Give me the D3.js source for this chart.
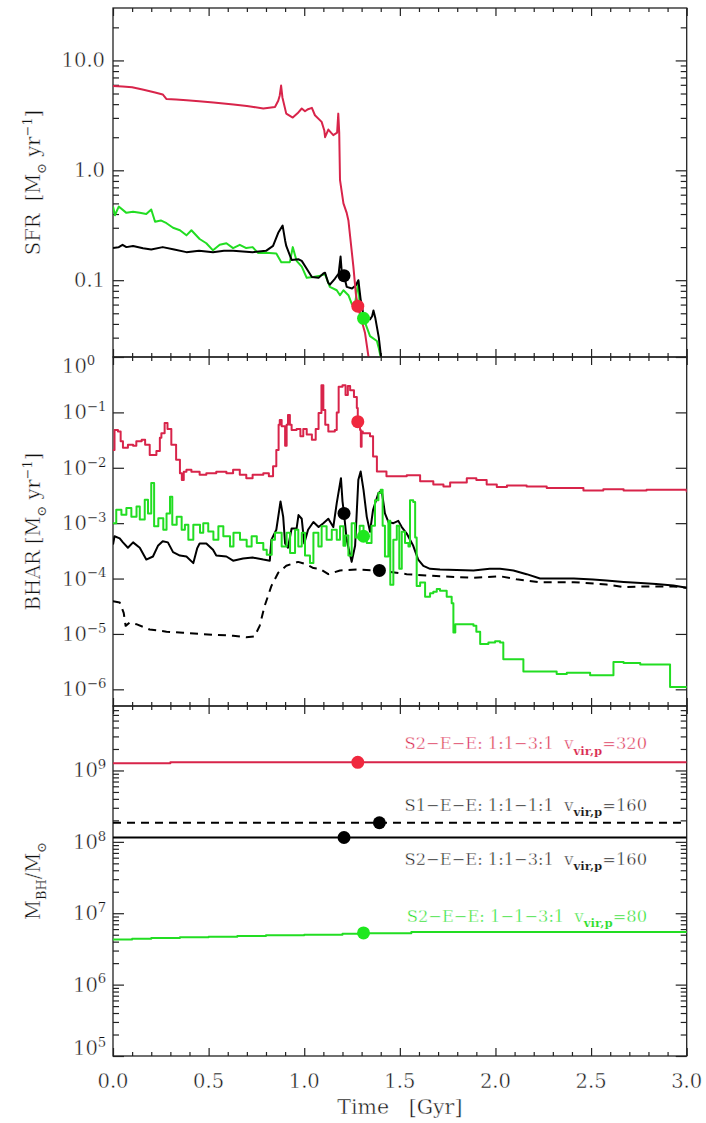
<!DOCTYPE html>
<html>
<head>
<meta charset="utf-8">
<script src="https://cdn.jsdelivr.net/npm/d3@7"></script>
<style>
  html, body { margin: 0; padding: 0; background: #fff; }
  svg { display: block; font-family: "DejaVu Serif", serif; }
  text { white-space: pre; stroke: #fff; stroke-width: 0.45px; }
  tspan.small { stroke-width: 0.2px; }
</style>
</head>
<body>
<svg id="chart" width="706" height="1123"></svg>
<script>
// ---------- data ----------
const timeTicks = [0, 0.5, 1.0, 1.5, 2.0, 2.5, 3.0];
const timeTickLabels = ["0.0", "0.5", "1.0", "1.5", "2.0", "2.5", "3.0"];
const sfrTicks = [10, 1, 0.1];
const sfrTickLabels = ["10.0", "1.0", "0.1"];
const bharExponents = [0, -1, -2, -3, -4, -5, -6];
const mbhExponents = [5, 6, 7, 8, 9];

// merger (coalescence) times of the four runs, Gyr
const mergeTimes = { red: 1.28, black: 1.208, green: 1.31, dashed: 1.393 };

// star formation rate, Msun/yr  [t, value]
const sfrRed = [[0,5.85],[0.05,5.8],[0.1,5.7],[0.16,5.4],[0.22,5.1],[0.26,4.9],[0.28,4.45],[0.33,4.4],[0.385,4.34],[0.45,4.25],[0.525,4.14],[0.63,3.97],[0.7,3.85],[0.735,3.77],[0.786,3.65],[0.847,3.77],[0.864,4.3],[0.872,4.8],[0.879,5.9],[0.886,4.6],[0.906,3.28],[0.94,3.02],[0.965,3.3],[0.987,3.65],[1.004,3.45],[1.02,3.6],[1.04,3.7],[1.056,3.17],[1.091,2.76],[1.105,2.3],[1.109,2.0],[1.126,2.35],[1.14,2.2],[1.152,2.09],[1.172,2.2],[1.178,3.28],[1.183,2.2],[1.187,0.82],[1.205,0.5],[1.222,0.41],[1.231,0.35],[1.257,0.133],[1.27,0.075],[1.28,0.058],[1.318,0.033],[1.34,0.018],[1.36,0.01]];
const sfrBlack = [[0,0.196],[0.03,0.2],[0.05,0.21],[0.07,0.2],[0.105,0.205],[0.157,0.195],[0.2,0.19],[0.26,0.2],[0.32,0.19],[0.384,0.18],[0.45,0.185],[0.523,0.18],[0.58,0.185],[0.628,0.185],[0.73,0.18],[0.8,0.185],[0.837,0.205],[0.864,0.27],[0.887,0.314],[0.9,0.23],[0.906,0.205],[0.934,0.153],[0.969,0.155],[0.987,0.15],[1.013,0.127],[1.04,0.107],[1.075,0.105],[1.1,0.115],[1.109,0.117],[1.125,0.095],[1.134,0.091],[1.16,0.103],[1.18,0.115],[1.19,0.164],[1.196,0.12],[1.208,0.11],[1.222,0.087],[1.25,0.084],[1.27,0.09],[1.283,0.1],[1.295,0.067],[1.31,0.048],[1.344,0.044],[1.355,0.047],[1.362,0.053],[1.372,0.045],[1.39,0.03],[1.41,0.015]];
const sfrGreen = [[0,0.468],[0.01,0.39],[0.03,0.468],[0.07,0.41],[0.105,0.42],[0.14,0.41],[0.174,0.4],[0.2,0.44],[0.22,0.34],[0.25,0.35],[0.28,0.33],[0.314,0.3],[0.35,0.285],[0.384,0.256],[0.41,0.285],[0.453,0.237],[0.488,0.217],[0.523,0.187],[0.558,0.21],[0.593,0.217],[0.628,0.196],[0.663,0.21],[0.697,0.196],[0.73,0.2],[0.758,0.177],[0.8,0.178],[0.854,0.175],[0.88,0.146],[0.925,0.146],[0.94,0.2],[0.96,0.15],[0.987,0.133],[1.013,0.105],[1.048,0.107],[1.082,0.11],[1.109,0.113],[1.134,0.087],[1.17,0.081],[1.187,0.073],[1.205,0.081],[1.231,0.073],[1.25,0.06],[1.265,0.06],[1.283,0.098],[1.292,0.05],[1.31,0.045],[1.344,0.031],[1.38,0.028],[1.39,0.024],[1.415,0.015]];

// black hole accretion rate, Msun/yr  [t, value]
const bharRed = [[0,0.021],[0.008,0.048],[0.026,0.045],[0.04,0.03],[0.052,0.023],[0.078,0.026],[0.105,0.025],[0.122,0.03],[0.15,0.032],[0.168,0.026],[0.192,0.017],[0.227,0.02],[0.245,0.035],[0.253,0.042],[0.27,0.064],[0.285,0.05],[0.305,0.026],[0.33,0.014],[0.35,0.008],[0.36,0.006],[0.37,0.0085],[0.384,0.0092],[0.41,0.0085],[0.453,0.0075],[0.488,0.008],[0.54,0.0085],[0.593,0.008],[0.628,0.0092],[0.663,0.0075],[0.697,0.0065],[0.73,0.0075],[0.786,0.008],[0.815,0.007],[0.837,0.0106],[0.854,0.021],[0.866,0.06],[0.872,0.073],[0.882,0.056],[0.89,0.056],[0.9,0.025],[0.908,0.06],[0.915,0.09],[0.925,0.06],[0.934,0.048],[0.96,0.05],[0.98,0.037],[0.995,0.05],[1.013,0.04],[1.04,0.032],[1.06,0.05],[1.075,0.097],[1.09,0.31],[1.1,0.11],[1.11,0.06],[1.126,0.045],[1.16,0.048],[1.17,0.1],[1.18,0.29],[1.2,0.31],[1.216,0.207],[1.228,0.3],[1.24,0.25],[1.26,0.19],[1.275,0.12],[1.28,0.068],[1.292,0.048],[1.296,0.024],[1.3,0.045],[1.306,0.042],[1.344,0.037],[1.36,0.016],[1.38,0.0086],[1.43,0.007],[1.536,0.0073],[1.606,0.0057],[1.675,0.005],[1.728,0.0046],[1.763,0.0054],[1.85,0.0065],[1.9,0.006],[1.954,0.005],[2.007,0.0045],[2.06,0.0048],[2.163,0.0046],[2.268,0.0043],[2.373,0.0043],[2.46,0.0039],[2.564,0.0041],[2.67,0.0039],[2.79,0.004],[2.896,0.004],[3.0,0.0036]];
const bharBlack = [[0,4.1e-4],[0.008,5.8e-4],[0.035,5.3e-4],[0.052,4.5e-4],[0.078,3.6e-4],[0.105,4.5e-4],[0.14,3.6e-4],[0.174,2.2e-4],[0.209,2.5e-4],[0.235,3.9e-4],[0.26,4.7e-4],[0.287,4.5e-4],[0.314,3.0e-4],[0.35,2.6e-4],[0.384,2.5e-4],[0.42,1.9e-4],[0.44,3.5e-4],[0.453,4.3e-4],[0.488,4.3e-4],[0.523,3.3e-4],[0.54,2.6e-4],[0.593,2.5e-4],[0.628,2.1e-4],[0.68,2.3e-4],[0.73,2.4e-4],[0.786,2.2e-4],[0.82,2.1e-4],[0.828,5e-4],[0.854,7.6e-4],[0.876,2.46e-3],[0.89,1.3e-3],[0.9,4.3e-4],[0.915,3.6e-4],[0.934,8e-4],[0.96,8e-4],[0.97,1.4e-3],[0.987,1.2e-3],[1.0,4.3e-4],[1.02,7.6e-4],[1.048,1.05e-3],[1.075,8.5e-4],[1.1,1e-3],[1.126,1.2e-3],[1.152,8.5e-4],[1.17,2.3e-3],[1.192,6.5e-3],[1.2,2.5e-3],[1.208,1.5e-3],[1.222,5e-4],[1.248,2e-4],[1.266,3.9e-4],[1.283,6.1e-3],[1.295,8.6e-3],[1.31,4e-3],[1.327,1.3e-3],[1.344,7e-4],[1.36,1.75e-3],[1.388,3.5e-3],[1.405,3.9e-3],[1.422,1.5e-3],[1.44,1.05e-3],[1.466,1e-3],[1.492,1.1e-3],[1.51,8.5e-4],[1.536,6.5e-4],[1.57,3.9e-4],[1.596,2.2e-4],[1.623,1.7e-4],[1.658,1.5e-4],[1.71,1.45e-4],[1.797,1.43e-4],[1.885,1.4e-4],[1.97,1.5e-4],[2.024,1.5e-4],[2.094,1.4e-4],[2.163,1.2e-4],[2.233,1.0e-4],[2.41,1.0e-4],[2.51,9.6e-5],[2.58,9.2e-5],[2.67,8.7e-5],[2.76,8.3e-5],[2.84,8e-5],[2.93,7.5e-5],[3.0,6.8e-5]];
const bharDashed = [[0,3.9e-5],[0.035,3.7e-5],[0.056,2.4e-5],[0.066,1.4e-5],[0.087,1.6e-5],[0.122,1.5e-5],[0.192,1.2e-5],[0.28,1.1e-5],[0.366,1.05e-5],[0.453,1.0e-5],[0.54,9.6e-6],[0.628,9.3e-6],[0.697,8.7e-6],[0.74,9e-6],[0.767,1.4e-5],[0.793,3.2e-5],[0.828,7.3e-5],[0.864,1.27e-4],[0.906,1.7e-4],[0.968,2.0e-4],[1.013,1.8e-4],[1.048,1.55e-4],[1.082,1.5e-4],[1.126,1.2e-4],[1.187,1.4e-4],[1.274,1.45e-4],[1.393,1.4e-4],[1.536,1.2e-4],[1.71,1.1e-4],[1.885,1.03e-4],[2.024,1.1e-4],[2.11,9.7e-5],[2.233,8.6e-5],[2.41,8.6e-5],[2.58,7.8e-5],[2.67,7e-5],[2.76,7.2e-5],[2.93,7.2e-5],[3.0,6.8e-5]];
const bharGreen = [[0,1.0e-3],[0.017,1.75e-3],[0.044,1.42e-3],[0.07,1.87e-3],[0.096,1.3e-3],[0.123,2.0e-3],[0.14,1.16e-3],[0.166,2.65e-3],[0.183,1.5e-3],[0.2,5.3e-3],[0.215,8.8e-4],[0.237,1.23e-3],[0.263,7.6e-4],[0.28,1.5e-3],[0.298,3.0e-3],[0.31,9.4e-4],[0.333,1.3e-3],[0.359,7.6e-4],[0.376,9.4e-4],[0.394,5.0e-4],[0.42,9.4e-4],[0.455,6.7e-4],[0.472,1.0e-3],[0.498,7.1e-4],[0.525,5.0e-4],[0.551,8.8e-4],[0.577,5.8e-4],[0.612,3.8e-4],[0.63,6.7e-4],[0.664,5.0e-4],[0.699,3.8e-4],[0.725,5.8e-4],[0.752,4.4e-4],[0.786,3.3e-4],[0.804,2.7e-4],[0.83,5.0e-4],[0.847,6.7e-4],[0.882,3.8e-4],[0.908,6.7e-4],[0.926,2.9e-4],[0.952,7.6e-4],[0.969,3.8e-4],[0.987,6.7e-4],[1.004,2.6e-4],[1.03,1.9e-4],[1.048,6.7e-4],[1.074,3.8e-4],[1.091,8.8e-4],[1.117,5.0e-4],[1.144,7.6e-4],[1.17,5.0e-4],[1.187,8.8e-4],[1.205,3.9e-4],[1.215,6e-4],[1.231,2.6e-4],[1.248,1e-3],[1.266,5.5e-4],[1.29,9e-4],[1.31,5.8e-4],[1.327,4.4e-4],[1.352,9e-4],[1.37,2.6e-3],[1.388,3.5e-3],[1.4,4e-3],[1.41,9e-4],[1.422,2.5e-4],[1.44,1.1e-3],[1.45,7.7e-5],[1.466,5e-4],[1.484,9e-4],[1.497,1.5e-4],[1.51,7e-4],[1.527,4.4e-4],[1.545,3.8e-4],[1.553,2.6e-3],[1.57,2.4e-3],[1.58,5.5e-4],[1.588,7.3e-5],[1.606,8.5e-5],[1.632,4.7e-5],[1.658,5.4e-5],[1.675,5.8e-5],[1.693,6.5e-5],[1.71,6e-5],[1.745,4.7e-5],[1.771,3.6e-5],[1.78,1.06e-5],[1.79,1.5e-5],[1.885,1.4e-5],[1.9,1.1e-5],[1.92,6.6e-6],[1.963,7e-6],[1.998,7.4e-6],[2.024,7e-6],[2.041,3.5e-6],[2.146,2.1e-6],[2.233,2.1e-6],[2.32,1.9e-6],[2.373,2.0e-6],[2.495,1.8e-6],[2.617,3.1e-6],[2.67,3.0e-6],[2.757,2.8e-6],[2.878,2.8e-6],[2.913,1.1e-6],[3.0,1.05e-6]];

// black hole mass, Msun  [t, value]
const mbhRed = [[0,1.26e9],[0.3,1.3e9],[3.0,1.3e9]];
const mbhDashed = [[0,1.85e8],[3.0,1.85e8]];
const mbhBlack = [[0,1.15e8],[3.0,1.15e8]];
const mbhGreen = [[0,4.3e6],[0.1,4.4e6],[0.2,4.5e6],[0.35,4.6e6],[0.5,4.7e6],[0.65,4.8e6],[0.8,4.9e6],[1.0,5.0e6],[1.2,5.15e6],[1.3,5.25e6],[1.56,5.45e6],[3.0,5.5e6]];

// values of each run at its merger time, per panel
const sfrAtMerge = { black: 0.11, red: 0.058, green: 0.045 };
const bharAtMerge = { red: 0.068, black: 1.5e-3, green: 5.8e-4, dashed: 1.4e-4 };
const mbhAtMerge = { red: 1.3e9, dashed: 1.85e8, black: 1.15e8, green: 5.3e6 };

// run labels
const runNames = { red: "S2\u2212E\u2212E: 1:1\u22123:1", dashed: "S1\u2212E\u2212E: 1:1\u22121:1", black: "S2\u2212E\u2212E: 1:1\u22123:1", green: "S2\u2212E\u2212E: 1\u22121\u22123:1" };
const runVvir = { red: "320", dashed: "160", black: "160", green: "80" };

// ---------- styles ----------
const COL = { red: "#d8244a", black: "#000000", green: "#22dd22", dashed: "#000000" };
const DOT = { red: "#f0283e", black: "#000000", green: "#1ee81e", dashed: "#000000" };
const AXIS = "#222";

const svg = d3.select("#chart");
const x = d3.scaleLinear().domain([0, 3]).range([113, 686.7]);
const X0 = x.range()[0], X1 = x.range()[1];

const panels = [
  { key: "sfr", y: d3.scaleLog().domain([0.02, 30]).range([357, 8]), minorY: true },
  { key: "bhar", y: d3.scaleLog().domain([5e-7, 1]).range([706, 357]), minorY: false },
  { key: "mbh", y: d3.scaleLog().domain([1e5, 8e9]).range([1056, 706]), minorY: true }
];

const minorTimes = d3.range(31).map(i => i / 10).filter(v => Math.abs(v * 2 - Math.round(v * 2)) > 1e-6);

function decadeMinors(scale) {
  const [a, b] = scale.domain();
  const out = [];
  for (let e = Math.floor(Math.log10(a)); e <= Math.ceil(Math.log10(b)); e++) {
    for (let m = 2; m <= 9; m++) {
      const v = m * Math.pow(10, e);
      if (v > a && v < b) out.push(v);
    }
  }
  return out;
}
function decades(scale) {
  const [a, b] = scale.domain();
  const out = [];
  for (let e = Math.ceil(Math.log10(a)); e <= Math.floor(Math.log10(b)); e++) out.push(Math.pow(10, e));
  return out;
}

function styleAxis(g) {
  g.select(".domain").remove();
  g.selectAll("line").attr("stroke", AXIS).attr("stroke-width", 1.2);
  g.selectAll("text").remove();
}

// rich text helper: parts = [{t, s: "sub"|"sup"|undefined, bold}]
function rich(textSel, parts, size) {
  let shift = 0;
  parts.forEach(p => {
    const target = p.s === "sub" ? size * 0.32 : p.s === "sup" ? -size * 0.42 : 0;
    const ts = textSel.append("tspan").text(p.t).attr("dy", target - shift);
    if (p.s) ts.attr("font-size", size * (p.scale || 0.66)).attr("class", "small");
    if (p.bold) ts.attr("font-weight", "bold");
    shift = target;
  });
}

const defs = svg.append("defs");

panels.forEach((p, i) => {
  const [Y1, Y0] = p.y.range();
  const g = svg.append("g").attr("class", "panel-" + p.key);

  defs.append("clipPath").attr("id", "clip-" + p.key)
    .append("rect").attr("x", X0).attr("y", Y0).attr("width", X1 - X0).attr("height", Y1 - Y0);

  // time ticks on top and bottom edges (inward)
  g.append("g").attr("transform", `translate(0,${Y1})`)
    .call(d3.axisBottom(x).tickValues(timeTicks).tickSize(-8)).call(styleAxis);
  g.append("g").attr("transform", `translate(0,${Y1})`)
    .call(d3.axisBottom(x).tickValues(minorTimes).tickSize(-4)).call(styleAxis);
  g.append("g").attr("transform", `translate(0,${Y0})`)
    .call(d3.axisTop(x).tickValues(timeTicks).tickSize(-8)).call(styleAxis);
  g.append("g").attr("transform", `translate(0,${Y0})`)
    .call(d3.axisTop(x).tickValues(minorTimes).tickSize(-4)).call(styleAxis);

  // log ticks on left and right edges (inward)
  const maj = decades(p.y);
  g.append("g").attr("transform", `translate(${X0},0)`)
    .call(d3.axisLeft(p.y).tickValues(maj).tickSize(-11)).call(styleAxis);
  g.append("g").attr("transform", `translate(${X1},0)`)
    .call(d3.axisRight(p.y).tickValues(maj).tickSize(-11)).call(styleAxis);
  if (p.minorY) {
    const mn = decadeMinors(p.y);
    g.append("g").attr("transform", `translate(${X0},0)`)
      .call(d3.axisLeft(p.y).tickValues(mn).tickSize(-6)).call(styleAxis);
    g.append("g").attr("transform", `translate(${X1},0)`)
      .call(d3.axisRight(p.y).tickValues(mn).tickSize(-6)).call(styleAxis);
  }

  // frame
  g.append("rect").attr("x", X0).attr("y", Y0).attr("width", X1 - X0).attr("height", Y1 - Y0)
    .attr("fill", "none").attr("stroke", AXIS).attr("stroke-width", 1.3);

  p.g = g;
  p.plot = g.append("g").attr("clip-path", `url(#clip-${p.key})`);
});

function drawLine(panel, data, color, opts = {}) {
  const line = d3.line()
    .x(d => x(d[0]))
    .y(d => panel.y(d[1]))
    .curve(opts.step ? d3.curveStepAfter : d3.curveLinear);
  panel.plot.append("path").datum(data)
    .attr("d", line)
    .attr("fill", "none")
    .attr("stroke", color)
    .attr("stroke-width", opts.width || 2)
    .attr("stroke-linejoin", "round")
    .attr("stroke-dasharray", opts.dash || null);
}
function drawDots(panel, values) {
  panel.plot.selectAll("circle.m").data(Object.keys(values)).join("circle")
    .attr("class", "m")
    .attr("cx", k => x(mergeTimes[k]))
    .attr("cy", k => panel.y(values[k]))
    .attr("r", 6.5)
    .attr("fill", k => DOT[k]);
}

const [pS, pB, pM] = panels;

// SFR
drawLine(pS, sfrGreen, COL.green);
drawLine(pS, sfrBlack, COL.black);
drawLine(pS, sfrRed, COL.red);
drawDots(pS, sfrAtMerge);

// BHAR
drawLine(pB, bharRed, COL.red, { step: true });
drawLine(pB, bharDashed, COL.black, { dash: "8,6" });
drawLine(pB, bharBlack, COL.black);
drawLine(pB, bharGreen, COL.green, { step: true });
drawDots(pB, bharAtMerge);

// BH mass
drawLine(pM, mbhRed, COL.red, { step: true });
drawLine(pM, mbhDashed, COL.black, { dash: "8,6" });
drawLine(pM, mbhBlack, COL.black);
drawLine(pM, mbhGreen, COL.green, { step: true });
drawDots(pM, mbhAtMerge);

// run labels in the mass panel, placed relative to each run's line
const LFS = 16.3;
const labelOffset = { red: -13, dashed: -12, black: 27, green: -11 };
["red", "dashed", "black", "green"].forEach(k => {
  const t = pM.g.append("text")
    .attr("x", 647)
    .attr("y", pM.y(mbhAtMerge[k]) + labelOffset[k])
    .attr("text-anchor", "end")
    .attr("font-size", LFS)
    .attr("fill", k === "red" ? COL.red : k === "green" ? COL.green : "#111");
  rich(t, [
    { t: runNames[k] + "  v" },
    { t: "vir,p", s: "sub", bold: true, scale: 0.72 },
    { t: "=" + runVvir[k] }
  ], LFS);
});

// ---------- tick labels ----------
const FS = 19.5;
// time labels along the bottom
svg.append("g").selectAll("text").data(timeTicks).join("text")
  .attr("x", d => x(d)).attr("y", 1088)
  .attr("text-anchor", "middle").attr("font-size", FS).attr("fill", "#111")
  .text((d, i) => timeTickLabels[i]);

function clampLabelY(panel, v) {
  const [b, t] = panel.y.range();
  return Math.max(t + 9, Math.min(b - 8, panel.y(v)));
}

// SFR labels
svg.append("g").selectAll("text").data(sfrTicks).join("text")
  .attr("x", 105).attr("y", d => pS.y(d) + 7)
  .attr("text-anchor", "end").attr("font-size", FS).attr("fill", "#111")
  .text((d, i) => sfrTickLabels[i]);

// power-of-ten labels
function powerLabels(panel, exps, xStart) {
  exps.forEach(e => {
    const t = svg.append("text")
      .attr("x", xStart)
      .attr("y", clampLabelY(panel, Math.pow(10, e)) + 7)
      .attr("font-size", FS).attr("fill", "#111");
    rich(t, [{ t: "10" }, { t: (e < 0 ? "\u2212" : "") + Math.abs(e), s: "sup", scale: 0.68 }], FS);
  });
}
powerLabels(pB, bharExponents, 62);
powerLabels(pM, mbhExponents, 73);

// ---------- axis titles ----------
function yTitle(panel, parts) {
  const [b, t] = panel.y.range();
  const cy = (b + t) / 2;
  const txt = svg.append("text")
    .attr("transform", `translate(40,${cy}) rotate(-90)`)
    .attr("text-anchor", "middle").attr("font-size", FS).attr("fill", "#111");
  rich(txt, parts, FS);
}
yTitle(pS, [{ t: "SFR  [M" }, { t: "\u2299", s: "sub" }, { t: " yr" }, { t: "\u22121", s: "sup" }, { t: "]" }]);
yTitle(pB, [{ t: "BHAR [M" }, { t: "\u2299", s: "sub" }, { t: " yr" }, { t: "\u22121", s: "sup" }, { t: "]" }]);
yTitle(pM, [{ t: "M" }, { t: "BH", s: "sub" }, { t: "/M" }, { t: "\u2299", s: "sub" }]);

svg.append("text")
  .attr("x", (X0 + X1) / 2).attr("y", 1114)
  .attr("text-anchor", "middle").attr("font-size", 20.5).attr("fill", "#111")
  .text("Time   [Gyr]");
</script>
</body>
</html>
